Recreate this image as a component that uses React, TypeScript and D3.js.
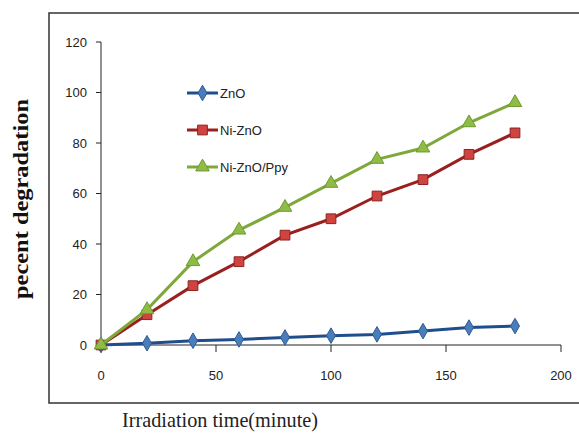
import React, { useRef, useEffect } from 'react';
import * as d3 from 'd3';

// irradiation times (minutes)
const times = [0, 20, 40, 60, 80, 100, 120, 140, 160, 180];
const seriesNames = ['ZnO', 'Ni-ZnO', 'Ni-ZnO/Ppy'];
const znoValues = [0, 0.7, 1.7, 2.2, 3, 3.7, 4.2, 5.5, 6.9, 7.5];
const niZnoValues = [0, 12, 23.5, 33, 43.5, 50, 59, 65.5, 75.5, 84];
const ppyValues = [0, 14, 33, 45.5, 54.5, 64, 73.5, 78, 88, 96];
const xTicks = [0, 50, 100, 150, 200];
const yTicks = [0, 20, 40, 60, 80, 100, 120];

const App = () => {
  const ref = useRef<SVGSVGElement>(null);

  useEffect(() => {
    const svg = d3.select(ref.current);
    svg.selectAll('*').remove();

    const x = d3.scaleLinear().domain([0, 200]).range([101, 561]);
    const y = d3.scaleLinear().domain([0, 120]).range([345, 42]);

    // outer frame
    svg.append('rect')
      .attr('x', 49).attr('y', 13)
      .attr('width', 540).attr('height', 390)
      .attr('fill', 'white')
      .attr('stroke', '#333').attr('stroke-width', 1.5);

    const tickFont = 'Liberation Sans, Arial, sans-serif';
    const serif = 'Liberation Serif, Times New Roman, serif';

    // y axis
    const yAxis = svg.append('g').attr('transform', `translate(${x(0)},0)`);
    yAxis.append('line').attr('y1', y(0)).attr('y2', y(120)).attr('stroke', '#222');
    yAxis.selectAll('.tk').data(yTicks).join('line')
      .attr('x1', -5).attr('x2', 0)
      .attr('y1', d => y(d)).attr('y2', d => y(d))
      .attr('stroke', '#222');
    yAxis.selectAll('text').data(yTicks).join('text')
      .attr('x', -14).attr('y', d => y(d))
      .attr('dy', '0.35em')
      .attr('text-anchor', 'end')
      .attr('font-family', tickFont)
      .attr('font-size', 13)
      .attr('fill', '#222')
      .text(d => d);

    // x axis
    const xAxis = svg.append('g').attr('transform', `translate(0,${y(0)})`);
    xAxis.append('line').attr('x1', x(0)).attr('x2', x(200)).attr('stroke', '#222');
    xAxis.selectAll('.tk').data(xTicks).join('line')
      .attr('x1', d => x(d)).attr('x2', d => x(d))
      .attr('y1', 0).attr('y2', 7)
      .attr('stroke', '#222');
    xAxis.selectAll('text').data(xTicks).join('text')
      .attr('x', d => x(d)).attr('y', 35)
      .attr('text-anchor', 'middle')
      .attr('font-family', tickFont)
      .attr('font-size', 13)
      .attr('fill', '#222')
      .text(d => d);

    // axis titles
    svg.append('text')
      .attr('transform', `translate(28,199) rotate(-90)`)
      .attr('text-anchor', 'middle')
      .attr('font-family', serif)
      .attr('font-weight', 'bold')
      .attr('font-size', 21)
      .attr('textLength', 200)
      .attr('lengthAdjust', 'spacingAndGlyphs')
      .attr('fill', '#111')
      .text('pecent degradation');
    svg.append('text')
      .attr('x', 220).attr('y', 427)
      .attr('text-anchor', 'middle')
      .attr('font-family', serif)
      .attr('font-size', 21)
      .attr('textLength', 196)
      .attr('lengthAdjust', 'spacingAndGlyphs')
      .attr('fill', '#222')
      .text('Irradiation time(minute)');

    const series = [
      { name: seriesNames[0], values: znoValues, line: '#1F4E8C', fill: '#4A7EBB', stroke: '#2E5A94', symbol: d3.symbolDiamond, size: 70 },
      { name: seriesNames[1], values: niZnoValues, line: '#9A1F1F', fill: '#D0433F', stroke: '#8B2323', symbol: d3.symbolSquare, size: 95 },
      { name: seriesNames[2], values: ppyValues, line: '#7FA83A', fill: '#8FBC45', stroke: '#6E9A32', symbol: d3.symbolTriangle, size: 80 },
    ];

    const lineGen = d3.line<number>()
      .x((_, i) => x(times[i]))
      .y(d => y(d));

    series.forEach(s => {
      const g = svg.append('g');
      g.append('path')
        .attr('d', lineGen(s.values))
        .attr('fill', 'none')
        .attr('stroke', s.line)
        .attr('stroke-width', 3);
      const sym = d3.symbol().type(s.symbol).size(s.size);
      g.selectAll('path.m').data(s.values).join('path')
        .attr('class', 'm')
        .attr('d', sym)
        .attr('transform', (d, i) => `translate(${x(times[i])},${y(d)})`)
        .attr('fill', s.fill)
        .attr('stroke', s.stroke)
        .attr('stroke-width', 1);
    });

    // legend
    const legend = svg.append('g').attr('transform', 'translate(187,0)');
    const legendY = [93, 130, 167];
    series.forEach((s, i) => {
      const gy = legendY[i];
      legend.append('line')
        .attr('x1', 0).attr('x2', 31)
        .attr('y1', gy).attr('y2', gy)
        .attr('stroke', s.line).attr('stroke-width', 3);
      legend.append('path')
        .attr('d', d3.symbol().type(s.symbol).size(s.size)())
        .attr('transform', `translate(15.5,${gy})`)
        .attr('fill', s.fill).attr('stroke', s.stroke);
      legend.append('text')
        .attr('x', 33).attr('y', gy).attr('dy', '0.35em')
        .attr('font-family', tickFont)
        .attr('font-size', 13)
        .attr('fill', '#222')
        .text(s.name);
    });
  }, []);

  return <svg ref={ref} width={579} height={434} style={{ position: 'absolute', left: 0, top: 0 }} />;
};

export default App;
